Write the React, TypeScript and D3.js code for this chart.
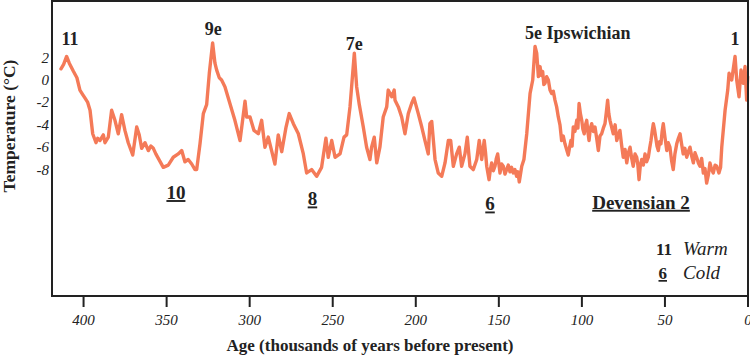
import React from "react";
import * as d3 from "d3";

// Age (thousands of years before present) and temperature anomaly (°C)
const ageKa: number[] = [
  413.6, 412, 410.2, 408.6, 406.2, 404, 402.2, 400.5, 399.2, 397.5, 396.1, 394.5, 392.5, 391.5, 390.1,
  388.1, 387.1, 385.1, 383.1, 381.1, 379.1, 377.1, 375.1, 373.1, 370.4, 368.0, 366.5, 365.0, 363.0,
  361.0, 359.5, 358.0, 356.5, 355.0, 352.0, 349.0, 346.0, 343.0, 340.9, 339.0, 337.0, 334.9, 332.9,
  331.9, 329.9, 327.9, 325.9, 324.3, 322.3, 320.9, 319.9, 318.3, 316.9, 314.9, 311.9, 308.9, 305.8,
  302.8, 301.8, 299.8, 297.4, 294.8, 292.8, 290.8, 288.8, 286.8, 284.8, 282.8, 280.7, 278.1, 276.2,
  273.7, 270.7, 267.7, 265.7, 262.7, 259.7, 256.7, 254.1, 252.7, 250.6, 248.6, 245.6, 243.2, 241.6,
  239.6, 237.0, 235.6, 234.0, 231.6, 229.6, 227.6, 226.6, 225.0, 223.5, 221.6, 219.6, 217.5, 216.6,
  214.5, 213.0, 212.5, 210.5, 208.5, 206.5, 204.5, 202.5, 201.1, 198.5, 196.4, 194.5, 192.5, 191.5,
  190.4, 188.4, 186.5, 184.4, 182.4, 180.4, 179.0, 177.4, 175.4, 173.8, 172.4, 170.4, 169.0, 167.4,
  165.4, 163.3, 161.8, 160.3, 158.8, 158.0, 157.3, 155.9, 155.1, 154.3, 153.3, 152.3, 151.5, 150.7,
  149.3, 148.3, 147.3, 146.3, 145.3, 144.3, 143.3, 142.3, 141.3, 140.3, 139.3, 138.5, 137.7, 136.2,
  134.9, 133.2, 131.2, 129.6, 128.2, 127.2, 126.2, 125.2, 124.4, 123.6, 122.9, 122.2, 121.2, 120.2,
  119.2, 118.2, 117.2, 116.2, 115.2, 114.2, 113.2, 112.2, 111.2, 110.2, 109.2, 108.2, 107.4, 106.6,
  105.9, 105.2, 104.2, 103.1, 102.4, 101.7, 100.9, 100.1, 99.4, 98.6, 97.8, 97.1, 96.4, 95.7, 94.9,
  94.1, 93.1, 92.1, 91.1, 90.1, 89.1, 88.1, 87.1, 86.1, 85.3, 84.5, 83.8, 83.1, 82.1, 81.1, 80.0,
  79.0, 78.0, 77.1, 76.1, 75.1, 74.0, 73.0, 72.0, 71.0, 70.0, 69.1, 68.0, 67.0, 66.3, 65.6, 64.8,
  64.0, 63.0, 62.0, 61.0, 60.0, 59.2, 58.4, 57.7, 57.0, 56.3, 55.6, 54.8, 54.0, 53.2, 52.4, 51.7,
  51.0, 50.0, 48.9, 48.0, 47.0, 46.0, 45.0, 44.0, 42.9, 41.9, 40.9, 40.0, 39.0, 38.0, 36.9, 35.9,
  34.9, 33.9, 32.9, 31.9, 30.9, 29.9, 28.9, 27.9, 26.9, 25.9, 24.9, 23.9, 22.9, 21.9, 20.9, 19.8,
  18.8, 17.5, 16.5, 15.8, 13.8, 12.2, 11.4, 9.8, 7.8, 6.8, 5.4, 4.2, 2.8, 1.8, 0.8, 0.2,
];

const tempC: number[] = [
  1.0, 1.4, 2.1, 1.5, 0.8, 0.2, -0.9, -1.3, -1.6, -2.0, -2.7, -4.8, -5.6, -5.2, -5.4,
  -4.9, -5.6, -5.1, -2.7, -3.6, -4.8, -3.1, -4.5, -5.6, -6.7, -4.2, -4.9, -6.1, -5.6,
  -6.3, -5.9, -6.1, -6.6, -7.0, -7.8, -7.6, -6.9, -6.6, -6.3, -7.3, -7.1, -7.5, -8.0,
  -8.0, -5.7, -3.0, -2.2, 0.6, 3.3, 1.5, 0.9, 0.2, 0.0, -0.6, -2.1, -3.6, -5.4,
  -1.9, -3.3, -3.3, -4.5, -4.8, -3.6, -6.0, -5.1, -6.3, -7.5, -4.9, -6.4, -4.2, -3.0,
  -3.9, -4.8, -6.6, -8.3, -8.0, -8.6, -7.8, -5.2, -6.9, -5.4, -6.9, -6.6, -5.1, -4.9,
  -2.4, 2.4, -0.6, -2.2, -4.2, -6.0, -7.1, -6.0, -5.1, -7.4, -6.0, -3.3, -2.4, -0.9,
  -1.5, -0.9, -1.8, -2.4, -3.3, -4.8, -3.0, -2.1, -1.6, -3.0, -4.2, -5.4, -6.6, -3.9,
  -3.7, -7.1, -8.3, -8.6, -7.4, -5.4, -5.4, -7.7, -6.6, -6.0, -7.7, -6.6, -5.1, -7.7,
  -8.0, -7.1, -5.4, -7.1, -5.4, -6.5, -7.7, -8.9, -8.0, -7.4, -8.1, -7.7, -7.0, -6.6,
  -8.3, -7.5, -7.7, -8.4, -8.0, -7.6, -8.2, -7.8, -8.3, -8.0, -8.6, -8.2, -9.1, -7.7,
  -7.1, -4.8, -1.2, 0.0, 3.0, 2.4, 0.3, 1.2, 0.4, 0.75, -0.4, -0.3, 0.3, 0.0,
  -0.9, -1.2, -1.0, -1.8, -2.4, -3.3, -4.0, -5.4, -5.0, -5.7, -6.2, -6.7, -6.0, -5.4,
  -5.9, -4.2, -4.6, -3.6, -4.3, -2.1, -3.0, -3.6, -4.4, -4.8, -4.0, -3.6, -4.6, -5.4, -4.3,
  -3.9, -4.6, -4.2, -5.2, -6.3, -5.0, -4.8, -4.3, -3.9, -2.9, -1.8, -3.0, -3.6, -4.2, -4.8, -4.0,
  -5.4, -4.9, -4.5, -5.8, -6.9, -6.2, -7.4, -6.5, -6.0, -7.0, -7.7, -6.6, -6.9, -7.6, -8.9, -7.6,
  -7.1, -7.6, -6.6, -7.3, -6.9, -6.1, -5.4, -4.6, -3.9, -4.4, -5.1, -5.9, -6.3, -5.5, -5.7, -4.6,
  -3.9, -5.1, -6.3, -5.6, -6.0, -7.2, -8.0, -6.6, -5.7, -5.2, -4.8, -5.7, -6.6, -6.1, -6.9, -6.4,
  -6.0, -6.8, -7.4, -6.5, -6.9, -7.4, -7.7, -7.0, -8.3, -7.9, -9.2, -8.5, -7.4, -8.0, -8.3, -7.6,
  -7.7, -8.3, -7.8, -6.0, -2.7, -0.9, 0.6, 0.0, 2.1, 0.0, -1.5, 0.9, -0.3, 1.2, -1.8, 0.3,
];

const xTicks: number[] = [400, 350, 300, 250, 200, 150, 100, 50, 0];
const yTicks: number[] = [2, 0, -2, -4, -6, -8];

const warmLabels = [
  { text: "11", age: 408.2, temp: 3.1, anchor: "middle" },
  { text: "9e", age: 322, temp: 4.0, anchor: "middle" },
  { text: "7e", age: 237, temp: 2.7, anchor: "middle" },
  { text: "5e Ipswichian", age: 134.3, temp: 3.65, anchor: "start" },
  { text: "1", age: 7.8, temp: 3.1, anchor: "middle" },
];
const coldLabels = [
  { text: "10", age: 344.4, temp: -10.63 },
  { text: "8", age: 262.2, temp: -11.2 },
  { text: "6", age: 155.3, temp: -11.65 },
  { text: "Devensian 2", age: 64.4, temp: -11.5 },
];

const W = 750;
const H = 358;
const left = 52;
const right = 748;
const top = 1;
const bottom = 296;

export default function App() {
  const x = d3.scaleLinear().domain([419, 0]).range([left, right]);
  const y = d3.scaleLinear().domain([0, -8]).range([80, 169.6]);
  const data = ageKa.map((a, i) => [a, tempC[i]] as [number, number]);
  const line = d3
    .line<[number, number]>()
    .x((d) => x(d[0]))
    .y((d) => y(d[1]))
    .curve(d3.curveLinear);
  const serif = "'Liberation Serif', 'Times New Roman', serif";
  return (
    <svg
      width={W}
      height={H}
      style={{ position: "absolute", left: 0, top: 0, background: "#fff" }}
      fontFamily={serif}
    >
      <path
        d={line(data) || ""}
        fill="none"
        stroke="#F47A58"
        strokeWidth={3.4}
        strokeLinejoin="round"
        strokeLinecap="round"
      />
      <rect
        x={left}
        y={top}
        width={right - left}
        height={bottom - top}
        fill="none"
        stroke="#222"
        strokeWidth={2}
      />
      {xTicks.map((t) => (
        <g key={"x" + t}>
          <line x1={x(t)} x2={x(t)} y1={bottom} y2={bottom + 11} stroke="#222" strokeWidth={2} />
          <text x={x(t)} y={325} textAnchor="middle" fontSize={15} fontStyle="italic" fill="#222">
            {t}
          </text>
        </g>
      ))}
      {yTicks.map((t) => (
        <text
          key={"y" + t}
          x={49}
          y={y(t) + 5}
          textAnchor="end"
          fontSize={15}
          fontStyle="italic"
          fill="#222"
        >
          {t}
        </text>
      ))}
      <text
        x={370}
        y={351}
        textAnchor="middle"
        fontSize={17}
        fontWeight="bold"
        fill="#222"
      >
        Age (thousands of years before present)
      </text>
      <text
        transform={`translate(15,126) rotate(-90)`}
        textAnchor="middle"
        fontSize={17.5}
        fontWeight="bold"
        fill="#222"
      >
        Temperature (°C)
      </text>
      {warmLabels.map((l) => (
        <text
          key={l.text}
          x={x(l.age)}
          y={y(l.temp)}
          textAnchor={l.anchor}
          fontSize={18}
          fontWeight="bold"
          fill="#222"
        >
          {l.text}
        </text>
      ))}
      {coldLabels.map((l) => (
        <text
          key={l.text}
          x={x(l.age)}
          y={y(l.temp)}
          textAnchor="middle"
          fontSize={19}
          fontWeight="bold"
          fill="#222"
          textDecoration="underline"
        >
          {l.text}
        </text>
      ))}
      <text x={672} y={255} textAnchor="end" fontSize={17} fontWeight="bold" fill="#222">
        11
      </text>
      <text x={683} y={255} fontSize={19} fontStyle="italic" fill="#222">
        Warm
      </text>
      <text
        x={667}
        y={279}
        textAnchor="end"
        fontSize={17}
        fontWeight="bold"
        fill="#222"
        textDecoration="underline"
      >
        6
      </text>
      <text x={683} y={279} fontSize={19} fontStyle="italic" fill="#222">
        Cold
      </text>
    </svg>
  );
}
